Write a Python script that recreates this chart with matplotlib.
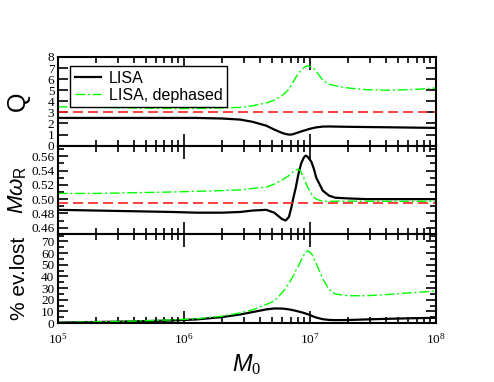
import numpy as np
import matplotlib
matplotlib.use("Agg")
import matplotlib.pyplot as plt
from matplotlib.ticker import MultipleLocator, LogLocator, LogFormatterMathtext, NullFormatter

plt.rcParams['font.family'] = 'Liberation Serif'
plt.rcParams['mathtext.fontset'] = 'custom'
plt.rcParams['mathtext.rm'] = 'Liberation Serif'
plt.rcParams['mathtext.it'] = 'Liberation Sans:italic'
plt.rcParams['mathtext.sf'] = 'Liberation Sans'

# total mass M0
M0 = [1.0e5, 2.0e5, 4.0e5, 8.0e5, 1.26e6, 2.0e6, 2.8e6, 3.5e6, 4.5e6, 5.2e6,
      6.0e6, 6.4e6, 6.8e6, 7.1e6, 7.4e6, 7.7e6, 8.1e6, 8.5e6, 8.9e6, 9.2e6,
      9.5e6, 1.02e7, 1.07e7, 1.12e7, 1.26e7, 1.41e7, 1.58e7, 2.0e7, 2.8e7, 4.0e7,
      6.3e7, 1.0e8]

# quality factor Q
q_lisa = [2.5, 2.5, 2.5, 2.5, 2.5, 2.45, 2.35, 2.15, 1.8, 1.45,
          1.15, 1.05, 1.0, 1.0, 1.05, 1.12, 1.2, 1.28, 1.35, 1.4,
          1.45, 1.55, 1.6, 1.65, 1.72, 1.73, 1.72, 1.7, 1.68, 1.66,
          1.63, 1.6]
q_deph = [3.5, 3.45, 3.4, 3.35, 3.35, 3.4, 3.45, 3.6, 3.85, 4.1,
          4.5, 4.8, 5.1, 5.45, 5.8, 6.15, 6.5, 6.8, 7.0, 7.15,
          7.2, 7.1, 6.95, 6.7, 5.9, 5.55, 5.4, 5.2, 5.05, 5.0,
          5.05, 5.2]
q_ref = 3.0

# M omega_R
w_lisa = [0.485, 0.484, 0.483, 0.482, 0.481, 0.481, 0.482, 0.484, 0.485, 0.481,
          0.472, 0.470, 0.475, 0.488, 0.503, 0.516, 0.536, 0.550, 0.558, 0.561,
          0.560, 0.553, 0.543, 0.530, 0.512, 0.505, 0.502, 0.501, 0.500, 0.500,
          0.500, 0.500]
w_deph = [0.508, 0.508, 0.509, 0.510, 0.511, 0.512, 0.513, 0.515, 0.517, 0.521,
          0.527, 0.530, 0.533, 0.536, 0.539, 0.541, 0.542, 0.538, 0.530, 0.524,
          0.518, 0.508, 0.503, 0.500, 0.497, 0.497, 0.497, 0.497, 0.497, 0.497,
          0.497, 0.497]
w_ref = 0.495

# % events lost
ev_lisa = [0.5, 1.0, 1.5, 2.3, 3.2, 5.2, 7.5, 9.5, 11.8, 12.6,
           12.5, 12.2, 11.8, 11.4, 11.0, 10.6, 10.0, 9.4, 8.8, 8.3,
           7.8, 6.5, 5.6, 4.8, 3.4, 2.8, 2.6, 2.7, 3.2, 3.7,
           4.2, 4.6]
ev_deph = [0.5, 1.2, 1.8, 2.8, 3.8, 6.0, 8.8, 11.5, 16, 19,
           26, 30, 34, 37.5, 41, 45, 49, 54, 58, 60.5,
           62, 60, 56, 51, 38, 29, 25, 23.5, 23.5, 24.5,
           26, 27.5]

fig, axes = plt.subplots(3, 1, sharex=True, figsize=(4.94, 3.82), dpi=100)
fig.subplots_adjust(left=0.117, right=0.883, top=0.851, bottom=0.154, hspace=0)

green_kw = dict(color='#00ff00', lw=1.0, dashes=[7, 2, 1.5, 2])
red_kw = dict(color='#ff2020', lw=1.2, dashes=[6, 3])

ax = axes[0]
ax.plot(M0, q_lisa, color='black', lw=1.6, label='LISA')
ax.plot(M0, q_deph, label='LISA, dephased', **green_kw)
ax.axhline(q_ref, **red_kw)
ax.set_ylim(0, 8)
ax.yaxis.set_major_locator(MultipleLocator(1))
ax.set_ylabel('Q', family='Liberation Sans', fontsize=18)
leg = ax.legend(loc='upper left', bbox_to_anchor=(0.012, 0.985),
                prop={'family': 'Liberation Sans', 'size': 11.5}, fancybox=False,
                edgecolor='black', framealpha=1, handlelength=1.6,
                borderpad=0.3, labelspacing=0.1, handletextpad=0.5)
leg.get_frame().set_linewidth(1.0)

ax = axes[1]
ax.plot(M0, w_lisa, color='black', lw=1.6)
ax.plot(M0, w_deph, **green_kw)
ax.axhline(w_ref, **red_kw)
ax.set_ylim(0.4505, 0.575)
ax.yaxis.set_major_locator(MultipleLocator(0.02))
ax.yaxis.set_minor_locator(MultipleLocator(0.01))
ax.set_ylabel(r'$M\omega_{\mathsf{R}}$', fontsize=16)

ax = axes[2]
ax.plot(M0, ev_lisa, color='black', lw=1.6)
ax.plot(M0, ev_deph, **green_kw)
ax.set_ylim(0, 76)
ax.yaxis.set_major_locator(MultipleLocator(10))
ax.yaxis.set_minor_locator(MultipleLocator(5))
ax.set_ylabel('% ev.lost', family='Liberation Sans', fontsize=15)
ax.set_xlabel(r'$M_{\mathit{0}}$', fontsize=17)

ax.set_xscale('log')
ax.set_xlim(1e5, 1e8)
ax.xaxis.set_major_locator(LogLocator(base=10))
ax.xaxis.set_major_formatter(LogFormatterMathtext())
ax.xaxis.set_minor_locator(LogLocator(base=10, subs=np.arange(2, 10)))
ax.xaxis.set_minor_formatter(NullFormatter())

for a in axes:
    for s in a.spines.values():
        s.set_linewidth(1.5)
    a.tick_params(which='both', direction='in', top=True, right=True,
                  labelsize=9.5, width=1.2)
    a.tick_params(which='major', length=7)
    a.tick_params(which='minor', length=4)
    a.tick_params(axis='y', which='major', pad=2.5)
    a.tick_params(axis='x', which='major', length=9, pad=6)
    a.yaxis.set_label_coords(-0.075, 0.5)

fig.savefig('out.png', dpi=100)
